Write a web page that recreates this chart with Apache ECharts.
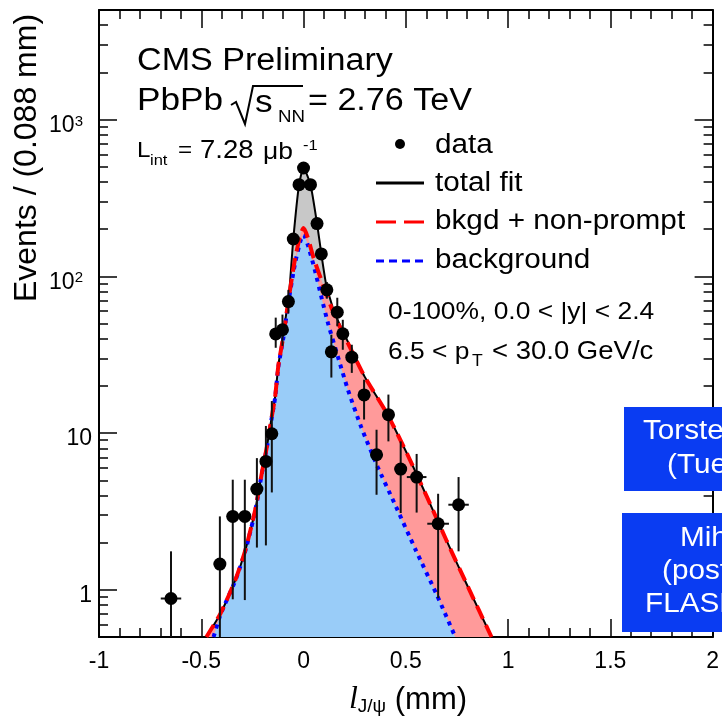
<!DOCTYPE html>
<html>
<head>
<meta charset="utf-8">
<script src="https://cdn.jsdelivr.net/npm/echarts@6/dist/echarts.min.js"></script>
<style>
  html, body { margin: 0; padding: 0; background: #fff; }
  #chart { width: 722px; height: 721px; }
</style>
</head>
<body>
<div id="chart"></div>
<script>
const FONT = '"Liberation Sans", Arial, Helvetica, sans-serif';

// measured points: decay length (mm), events, error bar ends, half bin width
const dataX   = [-0.648, -0.409, -0.346, -0.287, -0.228, -0.184, -0.155, -0.136, -0.103, -0.074, -0.050, -0.022, 0.000, 0.034, 0.066, 0.087, 0.114, 0.136, 0.165, 0.192, 0.236, 0.296, 0.357, 0.415, 0.475, 0.553, 0.658, 0.758];
const dataY   = [0.88, 1.46, 2.94, 2.94, 4.39, 6.59, 9.9, 42.9, 45.6, 69, 173, 384, 491, 384, 217, 139, 82, 33, 59, 43, 30.5, 17.5, 7.27, 13.1, 5.89, 5.24, 2.64, 3.49];
const errLow  = [0.3, 0.3, 0.87, 0.86, 1.86, 1.92, 4.18, 35, 36, 58, 160, 364, 469, 364, 202, 127, 72, 22.6, 48, 34, 24.2, 12.2, 4.04, 8.85, 3.09, 3.11, 0.885, 1.76];
const errHigh = [1.76, 2.94, 5.04, 5.04, 6.92, 11.1, 16, 54.5, 57, 82, 188, 404, 513, 404, 232, 151, 92, 42.4, 73, 52.8, 36.6, 21.9, 10.5, 17.6, 8.85, 7.36, 4.1, 5.24];
const binHalf = [0.05, 0.03, 0.03, 0.03, 0.03, 0.02, 0.02, 0.02, 0.02, 0.02, 0.02, 0.02, 0.02, 0.02, 0.02, 0.02, 0.02, 0.02, 0.02, 0.02, 0.02, 0.03, 0.03, 0.03, 0.03, 0.048, 0.053, 0.05];

// fit curves [x, events]
const totalFit = [[-0.475, 0.5], [-0.405, 0.71], [-0.333, 1.16], [-0.284, 1.8], [-0.236, 3.24], [-0.204, 5.56], [-0.179, 8.2], [-0.155, 12.8], [-0.139, 17], [-0.123, 27], [-0.098, 44], [-0.074, 72], [-0.066, 92], [-0.050, 173], [-0.022, 384], [0.000, 491], [0.034, 384], [0.066, 217], [0.087, 139], [0.111, 88], [0.140, 65], [0.152, 58], [0.233, 34.5], [0.298, 23], [0.411, 13.1], [0.508, 7.3], [0.604, 3.9], [0.700, 2.05], [0.800, 1.07], [0.919, 0.5]];
const bkgdNonPrompt = [[-0.475, 0.5], [-0.405, 0.71], [-0.333, 1.16], [-0.284, 1.8], [-0.236, 3.24], [-0.204, 5.56], [-0.179, 8.2], [-0.155, 12.8], [-0.139, 17], [-0.123, 27], [-0.098, 42], [-0.074, 70], [-0.042, 128], [-0.015, 185], [0.000, 203], [0.020, 178], [0.050, 130], [0.087, 95], [0.152, 56], [0.233, 34], [0.298, 23], [0.411, 13.1], [0.508, 7.3], [0.604, 3.9], [0.700, 2.05], [0.800, 1.07], [0.919, 0.5]];
const background = [[-0.440, 0.5], [-0.405, 0.7], [-0.333, 1.15], [-0.284, 1.78], [-0.236, 3.2], [-0.204, 5.5], [-0.179, 8.1], [-0.155, 12.6], [-0.139, 16.8], [-0.123, 26.5], [-0.098, 41], [-0.074, 68], [-0.042, 120], [-0.015, 168], [0.000, 184], [0.020, 160], [0.055, 110], [0.087, 74], [0.120, 50], [0.168, 30.7], [0.217, 18.9], [0.281, 11], [0.362, 6.1], [0.443, 3.6], [0.548, 1.8], [0.653, 0.92], [0.742, 0.5]];

const xTicks = [-1, -0.5, 0, 0.5, 1, 1.5, 2];
const yMin = 0.5, yMax = 5000;
const yMajor = [1, 10, 100, 1000];
const yMinor = [0.6, 0.7, 0.8, 0.9, 2, 3, 4, 5, 6, 7, 8, 9, 20, 30, 40, 50, 60, 70, 80, 90, 200, 300, 400, 500, 600, 700, 800, 900, 2000, 3000, 4000];

const L = Math.log10;
const lo = L(yMin), hi = L(yMax);
const majorLog = yMajor.map(L);
const minorLog = yMinor.map(L);

const chart = echarts.init(document.getElementById('chart'));

function yTickAxis(pos, major, labels) {
  return {
    type: 'value', min: lo, max: hi, position: pos,
    axisLine: { show: major, onZero: false, lineStyle: { color: '#000', width: 2 } },
    axisTick: { show: true, inside: true, length: major ? 18 : 9,
      customValues: major ? majorLog : minorLog, lineStyle: { color: '#000', width: 1.5 } },
    axisLabel: {
      show: labels, customValues: majorLog, margin: 7,
      color: '#000', fontFamily: FONT, fontSize: 23, padding: [12, 0, 0, 0],
      formatter: v => {
        const n = Math.round(v);
        if (n === 0) return '1';
        if (n === 1) return '10';
        return '{b|10}{s|' + n + '}{g|}';
      },
      rich: {
        b: { fontFamily: FONT, fontSize: 23, color: '#000' },
        s: { fontFamily: FONT, fontSize: 15, color: '#000', verticalAlign: 'top' },
        g: { width: 9 }
      }
    },
    splitLine: { show: false }
  };
}

function xAxisDef(pos, labels) {
  return {
    type: 'value', min: -1, max: 2, interval: 0.5, position: pos,
    axisLine: { show: true, onZero: false, lineStyle: { color: '#000', width: 2 } },
    axisTick: { show: true, inside: true, length: 18, lineStyle: { color: '#000', width: 1.5 } },
    minorTick: { show: true, splitNumber: 5, length: 9, lineStyle: { color: '#000', width: 1.5 } },
    axisLabel: { show: labels, margin: 13, color: '#000', fontFamily: FONT, fontSize: 23,
      formatter: v => xTicks.indexOf(v) >= 0 ? String(v) : '' },
    splitLine: { show: false }
  };
}

const pointRows = dataX.map((x, i) => [x, dataY[i], errLow[i], errHigh[i], binHalf[i]]);

function fillSeries(data, color) {
  return {
    type: 'line', data: data, xAxisIndex: 0, yAxisIndex: 0, showSymbol: false, silent: true,
    smooth: 0.2, lineStyle: { width: 0, opacity: 0 },
    areaStyle: { color: color, opacity: 1, origin: 'start' }, z: 1
  };
}
function lineSeries(data, color, width, dash, z, smooth) {
  return {
    type: 'line', data: data, xAxisIndex: 0, yAxisIndex: 0, showSymbol: false, silent: true,
    smooth: smooth, lineStyle: { color: color, width: width, type: dash }, z: z
  };
}

function txt(x, y, s, size, color) {
  return { type: 'text', x: x, y: y, scaleX: 1.1, z: color ? 101 : 50,
    style: { text: s, font: size + 'px ' + FONT, fill: color || '#000', verticalAlign: 'middle' } };
}

const option = {
  animation: false,
  backgroundColor: '#fff',
  grid: { left: 99, right: 4, top: 10, bottom: 84, containLabel: false },
  xAxis: [xAxisDef('bottom', true), xAxisDef('top', false)],
  yAxis: [
    { type: 'log', logBase: 10, min: yMin, max: yMax, show: false },
    yTickAxis('left', true, true),
    yTickAxis('left', false, false),
    yTickAxis('right', true, false),
    yTickAxis('right', false, false)
  ],
  series: [
    fillSeries(totalFit, '#c8c8c8'),
    fillSeries(bkgdNonPrompt, '#ff9a9a'),
    fillSeries(background, '#99ccf8'),
    lineSeries(totalFit, '#000', 2, 'solid', 3, 0.2),
    lineSeries(background, '#0000ff', 4, [4, 5], 4, 0.2),
    lineSeries(bkgdNonPrompt, '#ff0000', 4, [14, 7], 5, 0.2),
    {
      type: 'custom', xAxisIndex: 0, yAxisIndex: 0, data: pointRows, z: 6, silent: true,
      encode: { x: 0, y: 1 },
      renderItem: (params, api) => {
        const x = api.value(0), y = api.value(1);
        const top = api.coord([x, api.value(3)]);
        const bot = api.coord([x, Math.max(api.value(2), yMin)]);
        const l = api.coord([x - api.value(4), y]);
        const r = api.coord([x + api.value(4), y]);
        const st = { stroke: '#111', lineWidth: 2 };
        return { type: 'group', children: [
          { type: 'line', shape: { x1: top[0], y1: top[1], x2: bot[0], y2: bot[1] }, style: st },
          { type: 'line', shape: { x1: l[0], y1: l[1], x2: r[0], y2: r[1] }, style: st }
        ] };
      }
    },
    {
      type: 'scatter', xAxisIndex: 0, yAxisIndex: 0, silent: true, z: 7,
      data: dataX.map((x, i) => [x, dataY[i]]),
      symbol: 'circle', symbolSize: 13, itemStyle: { color: '#000', opacity: 1 }
    }
  ],
  graphic: [
    // y title
    { type: 'text', x: 27, y: 158, rotation: Math.PI / 2,
      style: { text: 'Events / (0.088 mm)', font: '32px ' + FONT, fill: '#000', align: 'center', verticalAlign: 'middle' } },
    // x title
    { type: 'text', x: 408, y: 700,
      style: { text: '{l|l}{j|J/ψ}{m| (mm)}', align: 'center', verticalAlign: 'middle', fill: '#000',
        rich: {
          l: { fontFamily: '"Liberation Serif", serif', fontStyle: 'italic', fontSize: 32, fill: '#000' },
          j: { fontFamily: FONT, fontSize: 19, verticalAlign: 'bottom', padding: [14, 0, 0, 0], fill: '#000' },
          m: { fontFamily: FONT, fontSize: 31, fill: '#000' }
        } } },
    // header texts
    txt(137, 61, 'CMS Preliminary', 31),
    txt(137, 101, 'PbPb', 32),
    { type: 'polyline', shape: { points: [[231, 105], [236, 102], [245, 124], [253, 86], [303, 86]] }, style: { stroke: '#000', lineWidth: 2, fill: null } },
    txt(255, 103, 's', 32),
    txt(278, 117, 'NN', 17),
    txt(308, 101, '= 2.76 TeV', 31),
    txt(137, 151, 'L', 22),
    txt(150, 161, 'int', 15),
    txt(178, 151, '=', 22),
    txt(200, 151, '7.28', 25),
    txt(263, 152, 'μb', 24),
    txt(303, 146, '-1', 15),
    // legend
    { type: 'circle', shape: { cx: 400, cy: 144, r: 5 }, style: { fill: '#000' } },
    txt(435, 146, 'data', 27),
    { type: 'line', shape: { x1: 376, y1: 183, x2: 424, y2: 183 }, style: { stroke: '#000', lineWidth: 3 } },
    txt(435, 184, 'total fit', 27),
    { type: 'line', shape: { x1: 376, y1: 222, x2: 424, y2: 222 }, style: { stroke: '#ff0000', lineWidth: 3, lineDash: [20, 8] } },
    txt(435, 222, 'bkgd + non-prompt', 27),
    { type: 'line', shape: { x1: 376, y1: 261, x2: 424, y2: 261 }, style: { stroke: '#0000ff', lineWidth: 3, lineDash: [8, 5] } },
    txt(435, 261, 'background', 27),
    // selection
    txt(388, 312, '0-100%, 0.0 < |y| < 2.4', 24),
    txt(388, 352, '6.5 < p', 24),
    txt(472, 362, 'T', 16),
    txt(492, 352, '< 30.0 GeV/c', 25),
    // talk boxes
    { type: 'rect', z: 100, shape: { x: 624, y: 407, width: 140, height: 84 }, style: { fill: '#0a3cf2' } },
    txt(643, 432, 'Torsten', 27, '#fff'),
    txt(667, 466, '(Tuesday)', 27, '#fff'),
    { type: 'rect', z: 100, shape: { x: 622, y: 513, width: 140, height: 119 }, style: { fill: '#0a3cf2' } },
    txt(680, 539, 'Mihee', 27, '#fff'),
    txt(662, 572, '(poster', 27, '#fff'),
    txt(645, 605, 'FLASH', 27, '#fff')
  ]
};

chart.setOption(option);
</script>
</body>
</html>
